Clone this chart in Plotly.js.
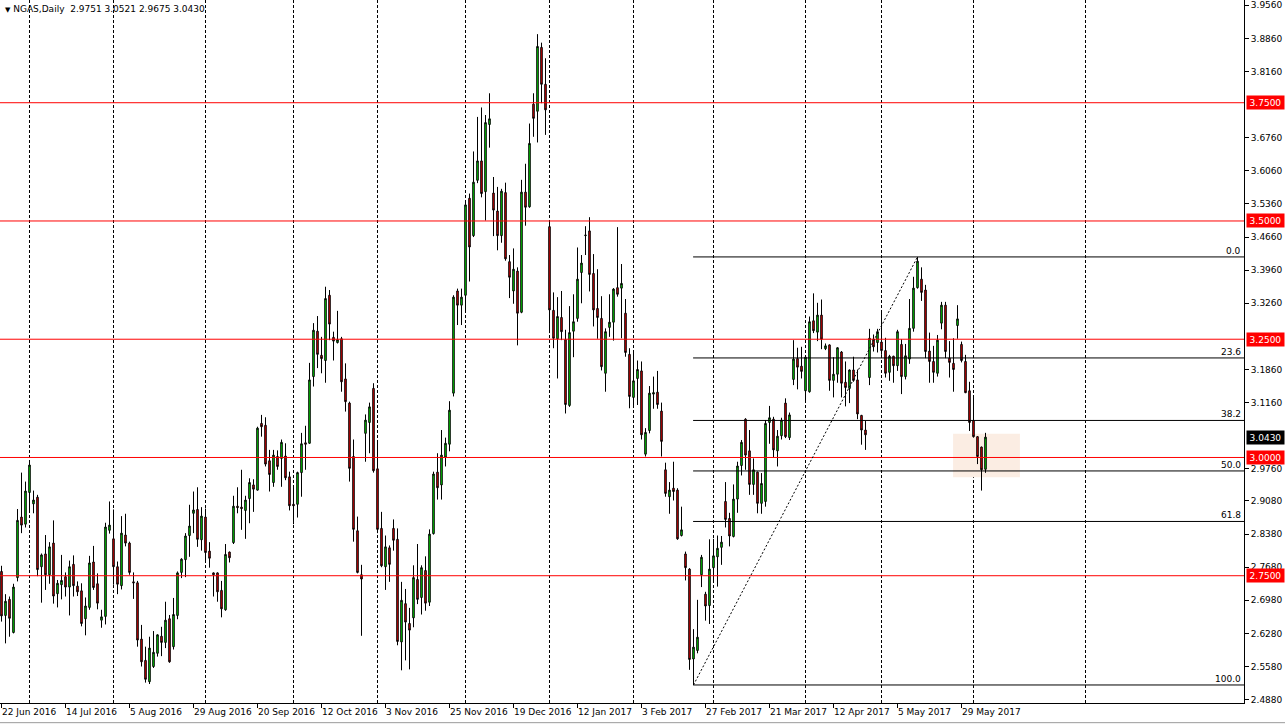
<!DOCTYPE html>
<html><head><meta charset="utf-8">
<script src="https://cdn.plot.ly/plotly-3.0.1.min.js"></script>
<style>html,body{margin:0;padding:0;background:#fff;overflow:hidden}#chart{width:1285px;height:726px}</style>
</head><body><div id="chart"></div>
<script>
const symbolName = 'NGAS,Daily';
const openP = [2.759,2.666,2.700,2.630,2.746,2.874,2.859,2.926,2.902,2.916,
2.769,2.796,2.752,2.819,2.712,2.731,2.748,2.726,2.774,2.728,
2.718,2.659,2.683,2.779,2.733,2.656,2.664,2.846,2.828,2.769,
2.729,2.836,2.819,2.737,2.735,2.616,2.571,2.526,2.558,2.586,
2.622,2.609,2.659,2.600,2.666,2.757,2.784,2.835,2.882,2.890,
2.826,2.874,2.802,2.756,2.756,2.719,2.678,2.800,2.820,2.897,
2.895,2.888,2.913,2.942,2.931,3.072,3.068,2.993,2.947,3.002,
2.998,3.003,2.959,2.901,2.901,2.968,3.031,3.030,3.171,3.267,
3.216,3.205,3.343,3.254,3.243,3.251,3.166,3.115,3.002,2.845,
2.752,3.051,3.074,3.146,2.976,2.850,2.769,2.809,2.850,2.827,
2.610,2.691,2.649,2.661,2.742,2.704,2.761,2.694,2.839,2.969,
2.942,3.001,3.028,3.136,3.352,3.322,3.343,3.548,3.469,3.586,
3.627,3.562,3.704,3.559,3.521,3.469,3.560,3.414,3.352,3.394,
3.307,3.561,3.530,3.747,3.732,3.867,3.789,3.488,3.311,3.251,
3.296,3.249,3.110,3.267,3.294,3.391,3.469,3.479,3.389,3.315,
3.294,3.178,3.275,3.286,3.359,3.358,3.305,3.218,3.127,3.167,
3.183,3.007,3.057,3.134,3.138,3.098,2.974,2.917,2.935,2.931,
2.835,2.796,2.764,2.574,2.592,2.752,2.711,2.687,2.767,2.790,
2.810,2.907,2.871,2.833,2.912,2.983,3.081,3.014,2.943,2.969,
2.903,2.907,3.074,3.081,3.014,3.046,3.115,3.042,3.165,3.209,
3.193,3.141,3.139,3.289,3.265,3.301,3.230,3.238,3.163,3.176,
3.223,3.159,3.146,3.185,3.164,3.089,3.058,3.169,3.250,3.243,
3.244,3.226,3.180,3.214,3.194,3.239,3.171,3.208,3.273,3.359,
3.377,3.354,3.225,3.203,3.178,3.284,3.322,3.210,3.199,3.279,
3.239,3.203,3.141,3.078,3.044,3.022,2.9751];
const highP = [2.771,2.711,2.706,2.733,2.891,2.968,2.949,2.993,2.930,2.921,
2.797,2.836,2.821,2.867,2.741,2.794,2.757,2.782,2.793,2.738,
2.734,2.704,2.792,2.813,2.755,2.678,2.862,2.907,2.890,2.780,
2.876,2.881,2.822,2.757,2.739,2.646,2.600,2.621,2.633,2.626,
2.642,2.695,2.667,2.703,2.759,2.787,2.840,2.900,2.928,2.937,
2.895,2.892,2.821,2.757,2.757,2.739,2.817,2.801,2.919,2.937,
2.974,2.919,2.956,2.954,3.065,3.090,3.085,3.016,3.016,3.015,
3.038,3.030,2.970,2.940,2.970,3.052,3.067,3.200,3.284,3.299,
3.255,3.361,3.354,3.266,3.310,3.255,3.199,3.118,3.038,2.875,
2.773,3.091,3.116,3.157,3.037,2.885,2.835,2.814,2.869,2.850,
2.737,2.722,2.682,2.772,2.817,2.772,2.791,2.848,2.970,3.009,
3.058,3.042,3.119,3.343,3.357,3.357,3.539,3.558,3.647,3.720,
3.740,3.724,3.770,3.593,3.572,3.568,3.581,3.428,3.442,3.402,
3.587,3.621,3.706,3.770,3.895,3.877,3.844,3.499,3.349,3.339,
3.352,3.270,3.320,3.345,3.444,3.428,3.489,3.508,3.430,3.398,
3.341,3.273,3.345,3.358,3.487,3.409,3.335,3.231,3.222,3.205,
3.203,3.062,3.151,3.171,3.183,3.116,2.989,2.948,2.991,2.935,
2.896,2.801,2.766,2.637,2.699,2.794,2.716,2.827,2.828,2.835,
2.834,2.948,2.883,2.943,2.991,3.037,3.083,3.058,2.998,2.970,
2.967,3.079,3.109,3.086,3.058,3.084,3.125,3.095,3.248,3.232,
3.234,3.213,3.298,3.347,3.327,3.334,3.241,3.239,3.212,3.233,
3.225,3.203,3.186,3.213,3.186,3.090,3.077,3.272,3.260,3.272,
3.310,3.253,3.217,3.215,3.270,3.250,3.240,3.335,3.382,3.424,
3.402,3.365,3.264,3.236,3.259,3.329,3.329,3.246,3.252,3.322,
3.245,3.217,3.160,3.130,3.045,3.023,3.0521];
const lowP = [2.653,2.607,2.621,2.628,2.738,2.840,2.852,2.884,2.882,2.749,
2.693,2.720,2.733,2.691,2.683,2.700,2.706,2.666,2.706,2.707,
2.643,2.624,2.678,2.720,2.679,2.640,2.647,2.839,2.731,2.711,
2.721,2.812,2.752,2.701,2.600,2.558,2.524,2.521,2.555,2.579,
2.580,2.597,2.566,2.594,2.658,2.745,2.747,2.790,2.840,2.811,
2.803,2.780,2.767,2.706,2.695,2.662,2.676,2.778,2.817,2.882,
2.847,2.828,2.861,2.885,2.930,3.044,2.981,2.928,2.938,2.974,
2.938,2.952,2.888,2.859,2.873,2.917,2.974,3.029,3.150,3.189,
3.178,3.158,3.248,3.205,3.241,3.139,3.097,2.949,2.822,2.755,
2.623,2.991,3.009,2.968,2.840,2.768,2.720,2.737,2.803,2.603,
2.550,2.571,2.552,2.641,2.690,2.668,2.676,2.686,2.837,2.911,
2.911,2.981,3.013,3.129,3.280,3.280,3.311,3.372,3.466,3.580,
3.550,3.501,3.655,3.468,3.438,3.454,3.416,3.337,3.325,3.237,
3.305,3.490,3.528,3.678,3.666,3.749,3.682,3.263,3.231,3.167,
3.248,3.093,3.107,3.212,3.287,3.326,3.428,3.351,3.277,3.251,
3.184,3.139,3.255,3.247,3.340,3.252,3.213,3.104,3.107,3.111,
3.038,3.002,3.051,3.103,3.103,3.002,2.917,2.881,2.909,2.826,
2.833,2.740,2.551,2.519,2.586,2.726,2.655,2.648,2.740,2.727,
2.773,2.852,2.812,2.831,2.883,2.962,2.974,2.921,2.921,2.882,
2.881,2.896,3.029,3.000,2.981,3.038,3.041,3.037,3.153,3.144,
3.167,3.120,3.137,3.263,3.246,3.229,3.227,3.141,3.127,3.158,
3.127,3.108,3.115,3.160,3.081,3.027,3.016,3.153,3.224,3.222,
3.217,3.169,3.162,3.158,3.183,3.134,3.165,3.198,3.266,3.357,
3.331,3.210,3.158,3.158,3.171,3.271,3.210,3.169,3.139,3.251,
3.201,3.136,3.056,3.042,2.986,2.930,2.9675];
const closeP = [2.665,2.696,2.660,2.726,2.867,2.857,2.929,2.984,2.910,2.763,
2.794,2.752,2.811,2.707,2.734,2.740,2.726,2.769,2.729,2.716,
2.649,2.686,2.777,2.725,2.692,2.663,2.853,2.857,2.769,2.732,
2.840,2.819,2.757,2.735,2.614,2.568,2.531,2.597,2.588,2.625,
2.609,2.656,2.568,2.668,2.756,2.785,2.834,2.855,2.889,2.827,
2.876,2.799,2.787,2.752,2.716,2.680,2.795,2.788,2.897,2.894,
2.892,2.910,2.947,2.933,3.062,3.065,2.986,2.964,3.005,2.981,
3.032,2.957,2.898,2.898,2.968,3.029,3.028,3.164,3.269,3.218,
3.209,3.336,3.282,3.246,3.249,3.160,3.118,2.977,2.848,2.757,
2.743,3.079,3.107,2.972,2.848,2.771,2.811,2.774,2.825,2.611,
2.698,2.652,2.635,2.746,2.700,2.767,2.692,2.838,2.965,2.936,
3.005,3.030,3.100,3.339,3.322,3.339,3.534,3.445,3.582,3.627,
3.558,3.708,3.716,3.523,3.469,3.563,3.420,3.381,3.398,3.305,
3.561,3.529,3.664,3.717,3.869,3.789,3.735,3.312,3.252,3.298,
3.266,3.112,3.264,3.287,3.377,3.411,3.470,3.387,3.312,3.296,
3.192,3.266,3.286,3.356,3.345,3.368,3.222,3.129,3.162,3.186,
3.048,3.053,3.136,3.137,3.112,3.034,2.924,2.931,2.928,2.828,
2.847,2.767,2.573,2.599,2.620,2.789,2.686,2.764,2.792,2.808,
2.821,2.869,2.834,2.912,2.982,3.032,3.005,2.943,2.974,2.903,
2.945,3.072,3.084,3.016,3.045,3.079,3.044,3.090,3.208,3.191,
3.182,3.212,3.287,3.268,3.301,3.250,3.236,3.163,3.176,3.232,
3.157,3.148,3.185,3.163,3.092,3.058,3.048,3.252,3.234,3.266,
3.226,3.178,3.214,3.194,3.266,3.171,3.215,3.273,3.358,3.415,
3.349,3.224,3.203,3.180,3.248,3.322,3.224,3.201,3.186,3.293,
3.205,3.137,3.074,3.044,3.002,2.974,3.0430];

const dateLabels = ['22 Jun 2016','14 Jul 2016','5 Aug 2016','29 Aug 2016','20 Sep 2016','12 Oct 2016','3 Nov 2016','25 Nov 2016','19 Dec 2016','12 Jan 2017','3 Feb 2017','27 Feb 2017','21 Mar 2017','12 Apr 2017','5 May 2017','29 May 2017'];
const dateLabelBars = [0,16,32,48,64,80,96,112,128,144,160,176,192,208,224,240];
const monthGridBars = [7,28,51,73,94,116,137,158,178,201,220,243,271];
const yTickLabels = ['3.9560','3.8860','3.8160','3.6760','3.6060','3.5360','3.4660','3.3960','3.3260','3.1860','3.1160','2.9760','2.9080','2.8380','2.7680','2.6980','2.6280','2.5580','2.4880'];
const keyLevels = [3.75, 3.5, 3.25, 3.0, 2.75];
const fibLevels = [0, 23.6, 38.2, 50.0, 61.8, 100.0];
const fibHigh = 3.424, fibLow = 2.519, fibLowBar = 173, fibHighBar = 229;
const zoneBars = [237.9, 254.6];
const zonePrices = [2.958, 3.050];

const bars = openP.map((_, i) => i);
const last = bars.length - 1;
const xRange = [-0.375, 310.625];
const yRange = [2.4809, 3.9672];
const FONT = 'DejaVu Sans, Verdana, sans-serif';

const trace = {
  type: 'candlestick', x: bars, open: openP, high: highP, low: lowP, close: closeP,
  increasing: {line: {color: '#000', width: 1}, fillcolor: '#00FF00'},
  decreasing: {line: {color: '#000', width: 1}, fillcolor: '#FF0000'},
  whiskerwidth: 0, hoverinfo: 'skip', showlegend: false
};

const shapes = [];
shapes.push({type: 'rect', xref: 'x', yref: 'y', x0: zoneBars[0], x1: zoneBars[1], y0: zonePrices[0], y1: zonePrices[1],
  fillcolor: '#FBEDE3', line: {width: 0}, layer: 'below'});
monthGridBars.forEach(b => shapes.push({type: 'line', xref: 'x', yref: 'paper', x0: b, x1: b, y0: 0, y1: 1,
  line: {color: '#000', width: 1, dash: '3px,2px'}, layer: 'below'}));
keyLevels.forEach(v => shapes.push({type: 'line', xref: 'paper', yref: 'y', x0: 0, x1: 1, y0: v, y1: v,
  line: {color: '#FF0000', width: 1}, layer: 'above'}));
const fibPrice = l => fibHigh - (fibHigh - fibLow) * l / 100;
fibLevels.forEach(l => shapes.push({type: 'line', xref: 'x', yref: 'y', x0: fibLowBar - 0.1, x1: xRange[1], y0: fibPrice(l), y1: fibPrice(l),
  line: {color: '#000', width: 1}, layer: 'above'}));
shapes.push({type: 'line', xref: 'x', yref: 'y', x0: fibLowBar, y0: fibLow, x1: fibHighBar, y1: fibHigh,
  line: {color: '#000', width: 1, dash: '2px,2px'}, layer: 'above'});
shapes.push({type: 'line', xref: 'paper', yref: 'paper', x0: 0, x1: 1.04, y0: -0.028, y1: -0.028,
  line: {color: '#9a9a9a', width: 1}});

const annotations = [];
annotations.push({xref: 'paper', yref: 'paper', x: 0, y: 1, xanchor: 'left', yanchor: 'top', xshift: 3, yshift: -2,
  showarrow: false, align: 'left',
  text: '<span style="font-size:7px">▼</span> ' + symbolName + '  ' + [openP[last], highP[last], lowP[last], closeP[last]].map(v => v.toFixed(4)).join(' '),
  font: {family: FONT, size: 9, color: '#000'}});
dateLabels.forEach((t, i) => annotations.push({xref: 'x', yref: 'paper', x: dateLabelBars[i], y: 0, xanchor: 'left', yanchor: 'top',
  xshift: -2, yshift: -2, showarrow: false, text: t, font: {family: FONT, size: 9, color: '#000'}}));
keyLevels.forEach(v => annotations.push({xref: 'paper', yref: 'y', x: 1, y: v, xanchor: 'left', yanchor: 'middle', xshift: 2,
  showarrow: false, text: v.toFixed(4), bgcolor: '#FF0000', borderpad: 1, width: 35, height: 11,
  font: {family: FONT, size: 9, color: '#fff'}}));
annotations.push({xref: 'paper', yref: 'y', x: 1, y: closeP[last], xanchor: 'left', yanchor: 'middle', xshift: 2,
  showarrow: false, text: closeP[last].toFixed(4), bgcolor: '#000', borderpad: 1, width: 35, height: 11,
  font: {family: FONT, size: 9, color: '#fff'}});
fibLevels.forEach(l => annotations.push({xref: 'paper', yref: 'y', x: 1, y: fibPrice(l), xanchor: 'right', yanchor: 'bottom',
  xshift: -1, yshift: -1, showarrow: false, text: l.toFixed(1), font: {family: FONT, size: 9, color: '#000'}}));

const layout = {
  width: 1285, height: 726, margin: {l: 0, r: 41, t: 0, b: 23},
  paper_bgcolor: '#fff', plot_bgcolor: '#fff', boxgap: 0.45, showlegend: false,
  xaxis: {range: xRange, showgrid: false, zeroline: false, showline: true, linecolor: '#000', linewidth: 1,
    ticks: 'outside', ticklen: 4, tickcolor: '#000', tickvals: dateLabelBars, showticklabels: false,
    rangeslider: {visible: false}, fixedrange: true},
  yaxis: {side: 'right', range: yRange, showgrid: false, zeroline: false, showline: true, linecolor: '#000', linewidth: 1,
    ticks: 'outside', ticklen: 4, tickcolor: '#000', tickvals: yTickLabels.map(Number), ticktext: yTickLabels,
    tickfont: {family: FONT, size: 9, color: '#000'}, fixedrange: true},
  shapes: shapes, annotations: annotations
};
Plotly.newPlot('chart', [trace], layout, {staticPlot: true, displayModeBar: false});
</script></body></html>
